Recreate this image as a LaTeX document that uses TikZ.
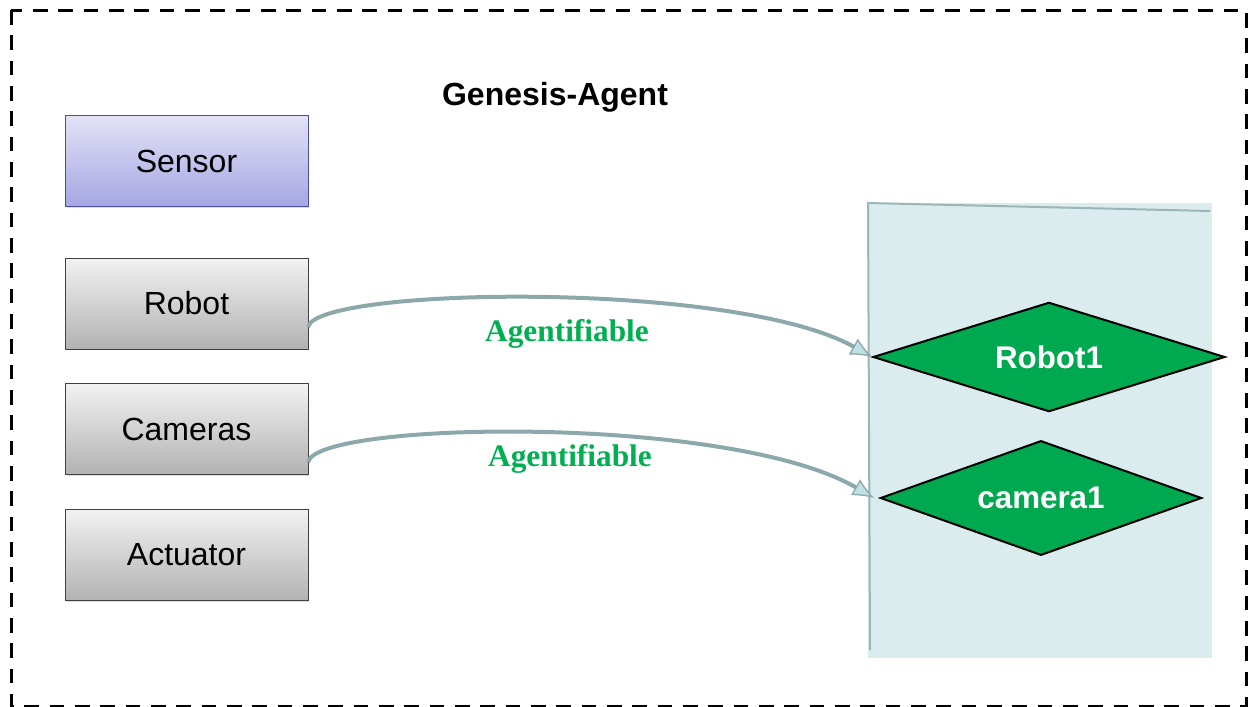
\documentclass[tikz,border=0pt]{standalone}
\usepackage{fontspec}
\setmainfont{Liberation Sans}
\newfontfamily\labelfont{Liberation Serif}
\usetikzlibrary{shapes.geometric,arrows.meta,shadows}
\definecolor{sensortop}{HTML}{E2E2F7}
\definecolor{sensorbot}{HTML}{A6A6E4}
\definecolor{sensorline}{HTML}{4B4BA8}
\definecolor{greytop}{HTML}{F2F2F2}
\definecolor{greybot}{HTML}{B2B2B2}
\definecolor{panelfill}{HTML}{DAECEE}
\definecolor{panelline}{HTML}{9BB5B8}
\definecolor{linkline}{HTML}{8CA8AB}
\definecolor{tipfill}{HTML}{BFE0E4}
\definecolor{agentgreen}{HTML}{00A94F}
\definecolor{labelgreen}{HTML}{00B050}
\tikzset{
  part/.style={rectangle, draw=black!75, top color=greytop, bottom color=greybot,
    minimum width=182pt, minimum height=68pt, font=\fontsize{24}{28}\selectfont,
    drop shadow={opacity=0.25, shadow xshift=1.2pt, shadow yshift=-1.2pt}},
  agent/.style={diamond, aspect=3, inner sep=2pt, draw=black, line width=1.5pt,
    fill=agentgreen, text=white, font=\fontsize{23.5}{27}\selectfont\bfseries},
  link/.style={draw=linkline, line width=3pt,
    -{Latex[length=16pt,width=14pt,fill=tipfill,line width=1pt]}},
  linklabel/.style={text=labelgreen, font=\labelfont\fontsize{23.5}{27}\selectfont\bfseries}
}
\begin{document}
\begin{tikzpicture}[x=0.75pt,y=-0.75pt]
\useasboundingbox (0,0) rectangle (1258,707);
\draw[line width=2.25pt, dash pattern=on 11pt off 8pt] (11,10) rectangle (1246,706);
\node (title) [anchor=center, font=\fontsize{24}{28}\selectfont\bfseries] at (555,97) {Genesis-Agent};
% left column
\node (sensor) [part, draw=sensorline, top color=sensortop, bottom color=sensorbot] at (186.5,161) {Sensor};
\node (robot) [part] at (186.5,303.5) {Robot};
\node (cameras) [part] at (186.5,429) {Cameras};
\node (actuator) [part] at (186.5,555) {Actuator};
% right panel
\fill[panelfill] (868,203) rectangle (1212,658);
\draw[panelline, line width=1.5pt] (1210,211) -- (868,203) -- (870,650);
\node (robot1) [agent, minimum width=264pt, minimum height=82pt] at (1049,357) {Robot1};
\node (camera1) [agent, minimum width=241pt, minimum height=86pt] at (1041,498) {camera1};
% links
\draw[link] ([yshift=-17.6pt]robot.east) .. controls (316,287) and (735,280) .. (robot1.west);
\draw[link] ([yshift=-24.8pt]cameras.east) .. controls (316,421) and (730,414) .. ([xshift=-4pt]camera1.west);
\node (lblrobot) [linklabel] at (567,334) {Agentifiable};
\node (lblcamera) [linklabel] at (570,459) {Agentifiable};
\end{tikzpicture}
\end{document}
